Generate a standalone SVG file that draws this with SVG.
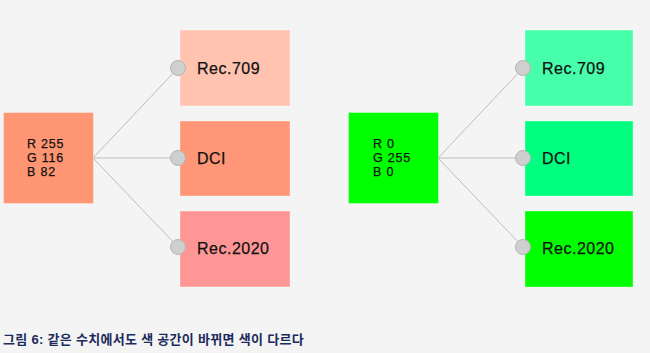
<svg xmlns="http://www.w3.org/2000/svg" width="650" height="353" viewBox="0 0 650 353">
<style>
.bg{fill:#f4f4f4}
.box{stroke:#ffffff;stroke-opacity:0.35;stroke-width:1}
.src{font-family:"Liberation Sans",Arial,sans-serif;font-size:12.5px;letter-spacing:0.8px;fill:#111;stroke:#111;stroke-width:0.25px}
.lbl{font-family:"Liberation Sans",Arial,sans-serif;font-size:16px;letter-spacing:0.5px;fill:#111;stroke:#111;stroke-width:0.25px}
.dot{fill:#cfcfcf;stroke:#b5b5b5;stroke-width:1}
.conn line{stroke:#bdbdbd;stroke-width:1}
.cap{font-family:"Liberation Sans","Noto Sans CJK KR",sans-serif;font-size:13px;letter-spacing:0.3px;font-weight:bold;fill:#1c2a5c}
</style>
<rect class="bg" x="0" y="0" width="650" height="353"/>
<g id="connectors" class="conn">
<line x1="93" y1="158" x2="178" y2="68"/>
<line x1="93" y1="158" x2="178" y2="158"/>
<line x1="93" y1="158" x2="178" y2="247"/>
<line x1="438" y1="158" x2="523" y2="68"/>
<line x1="438" y1="158" x2="523" y2="158"/>
<line x1="438" y1="158" x2="523" y2="247"/>
</g>
<g id="src-left">
<rect class="box" x="3.5" y="112.5" width="90" height="91" fill="#ff9673"/>
<text class="src"><tspan x="27" y="148">R 255</tspan><tspan x="27" y="162">G 116</tspan><tspan x="27" y="176">B 82</tspan></text>
</g>
<g id="left-rec709">
<rect class="box" x="180" y="30" width="110" height="76" fill="#ffc3b0"/>
<circle class="dot" cx="178" cy="68" r="7.5"/>
<text class="lbl" x="197" y="74">Rec.709</text>
</g>
<g id="left-dci">
<rect class="box" x="180" y="121" width="110" height="75" fill="#ff9677"/>
<circle class="dot" cx="178" cy="158" r="7.5"/>
<text class="lbl" x="197" y="164">DCI</text>
</g>
<g id="left-rec2020">
<rect class="box" x="180" y="211" width="110" height="76" fill="#ff9696"/>
<circle class="dot" cx="178" cy="247" r="7.5"/>
<text class="lbl" x="197" y="254">Rec.2020</text>
</g>
<g id="src-right">
<rect class="box" x="348.5" y="112.5" width="90" height="91" fill="#00ff00"/>
<text class="src"><tspan x="373" y="148">R 0</tspan><tspan x="373" y="162">G 255</tspan><tspan x="373" y="176">B 0</tspan></text>
</g>
<g id="right-rec709">
<rect class="box" x="525" y="30" width="108" height="76" fill="#47ffaa"/>
<circle class="dot" cx="523" cy="68" r="7.5"/>
<text class="lbl" x="542" y="74">Rec.709</text>
</g>
<g id="right-dci">
<rect class="box" x="525" y="121" width="108" height="75" fill="#00ff7f"/>
<circle class="dot" cx="523" cy="158" r="7.5"/>
<text class="lbl" x="542" y="164">DCI</text>
</g>
<g id="right-rec2020">
<rect class="box" x="525" y="211" width="108" height="76" fill="#00ff00"/>
<circle class="dot" cx="523" cy="247" r="7.5"/>
<text class="lbl" x="542" y="254">Rec.2020</text>
</g>
<text class="cap" x="3" y="344">그림 6: 같은 수치에서도 색 공간이 바뀌면 색이 다르다</text>
</svg>
